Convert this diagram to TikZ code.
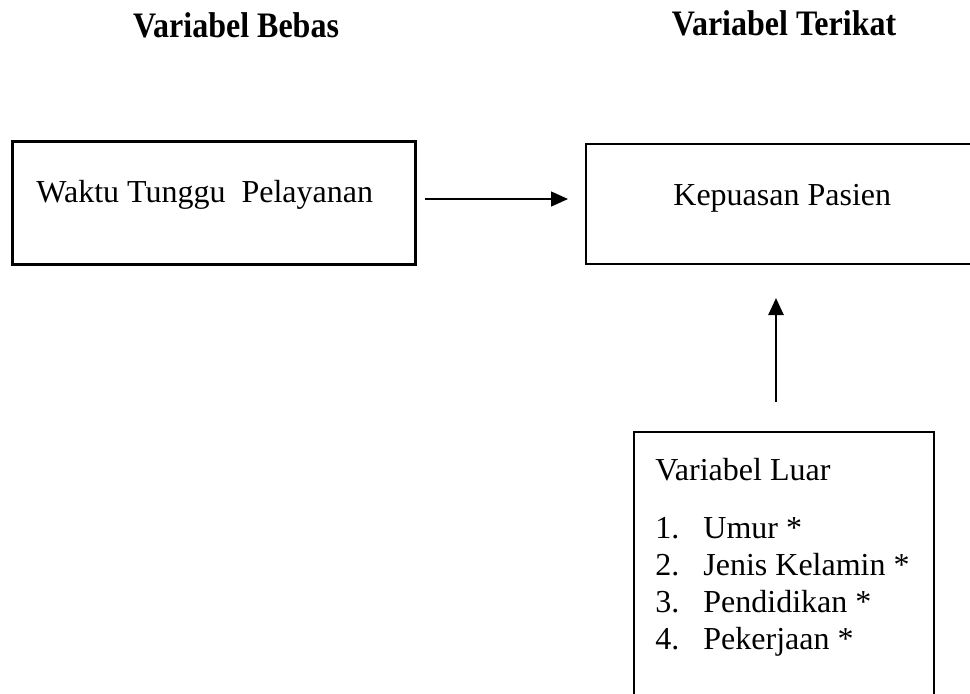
\documentclass[tikz,border=0pt]{standalone}
\usepackage{fontspec}
\setmainfont{Liberation Serif}
\usetikzlibrary{arrows.meta}
\usetikzlibrary{positioning}
\tikzset{kotak/.style = {draw, rectangle, inner sep=0pt},
         judul/.style = {font=\fontsize{16}{19}\selectfont\bfseries, anchor=base},
         isi/.style   = {font=\fontsize{16}{19}\selectfont, anchor=base west, inner sep=0pt},
         alur/.style  = {-{Triangle[length=8.5pt,width=7.5pt]}}}

\begin{document}
\begin{tikzpicture}[x=0.5pt,y=-0.5pt]
    \useasboundingbox (0,0) rectangle (970,693);
    \clip (0,0) rectangle (970,693);
    % judul kolom
    \node [judul] (jbebas) at (236,37) {\scalebox{1}[1.12]{Variabel Bebas}};
    \node [judul] (jterikat) at (784,35) {\scalebox{1}[1.12]{Variabel Terikat}};
    % kotak variabel
    \node [kotak, line width=1.5pt, minimum width=201.5pt, minimum height=61.5pt] (bebas) at (213.5,202.5) {};
    \node [kotak, line width=1pt, minimum width=197pt, minimum height=60pt] (terikat) at (783,204) {};
    \node [kotak, line width=1.2pt, minimum width=150pt, minimum height=139pt] (luar) at (784,571) {};
    \node [isi] (tbebas) at (36,202) {Waktu Tunggu\ \ Pelayanan};
    \node [isi] (tterikat) at (673,205) {Kepuasan Pasien};
    \node [isi] (tluar) at (655,480) {Variabel Luar};
    \foreach \teks [count=\n] in {Umur *, Jenis Kelamin *, Pendidikan *, Pekerjaan *} {
      \node [isi] (no\n) at (655, {538 + 37*(\n-1)}) {\n.};
      \node [isi] (item\n) at (703, {538 + 37*(\n-1)}) {\teks};
    }
    % panah
    \draw [alur, line width=0.7pt] ([xshift=4pt,yshift=1.75pt]bebas.east)
      -- ([xshift=-8.5pt,yshift=1.75pt]bebas.east -| terikat.west);
    \draw [alur, line width=1.3pt] ([xshift=-4pt,yshift=14.5pt]luar.north)
      -- ([xshift=-4pt,yshift=-16.5pt]luar.north |- terikat.south);
\end{tikzpicture}
\end{document}
